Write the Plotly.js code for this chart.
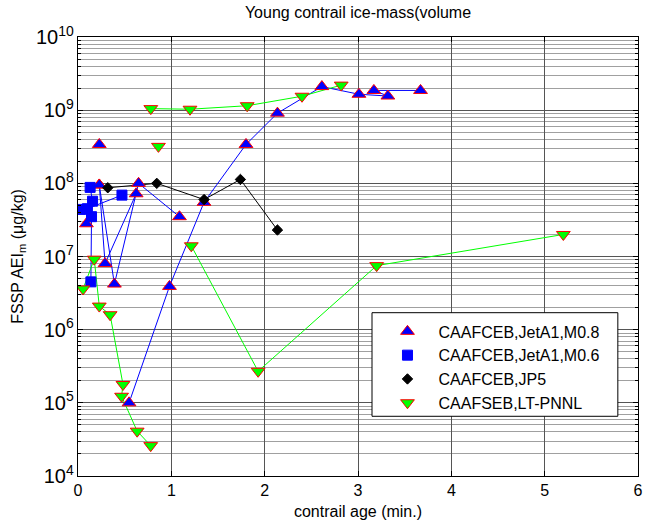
<!DOCTYPE html>
<html><head><meta charset="utf-8">
<script src="https://cdn.plot.ly/plotly-3.0.1.min.js"></script>
<style>html,body{margin:0;padding:0;background:#fff}#chart{width:646px;height:528px}</style>
</head><body><div id="chart"></div>
<script>
// Series names (legend)
const seriesNames = ["CAAFCEB,JetA1,M0.8", "CAAFCEB,JetA1,M0.6", "CAAFCEB,JP5", "CAAFSEB,LT-PNNL"];

// CAAFCEB, JetA1, M0.8 (null = break in the connecting line)
const m08X = [0.09, null, 0.228, null, 0.228, 0.29, 0.623, null, 0.228, 0.39, 0.649, 1.087, null, 0.547, 0.98, 1.35, 1.80, 2.137, 2.613, 3.01, 3.32, 3.17, 3.67];
const m08Y = [2.8e7, null, 3.4e8, null, 9.5e7, 8e6, 7.2e7, null, 9.5e7, 4.2e6, 1e8, 3.5e7, null, 1e5, 3.9e6, 5.5e7, 3.4e8, 9.1e8, 2.1e9, 1.65e9, 1.56e9, 1.86e9, 1.86e9];

// CAAFCEB, JetA1, M0.6
const m06X = [0.13, 0.156, 0.145, 0.138, null, 0.03, 0.10, 0.471];
const m06Y = [8.8e7, 5.7e7, 3.5e7, 4.5e6, null, 4.4e7, 4.5e7, 6.9e7];

// CAAFCEB, JP5
const jp5X = [0.319, 0.844, 1.351, 1.74, 2.137];
const jp5Y = [8.7e7, 1.0e8, 6.0e7, 1.13e8, 2.3e7];

// CAAFSEB, LT-PNNL
const pnnlX = [0.054, 0.174, 0.228, 0.344, 0.482, 0.467, 0.634, 0.779, null, 0.78, 1.2, 1.813, 2.40, 2.82, null, 0.862, null, 1.214, 1.93, 3.2, 5.2];
const pnnlY = [3.6e6, 9.2e6, 2.1e6, 1.6e6, 1.78e5, 1.23e5, 4.1e4, 2.6e4, null, 1.05e9, 1.03e9, 1.15e9, 1.55e9, 2.2e9, null, 3.2e8, null, 1.4e7, 2.7e5, 7.5e6, 2.0e7];

const FONT = "Liberation Sans, Arial, sans-serif";

function lineTrace(x, y, color) {
  return {x: x, y: y, type: 'scatter', mode: 'lines', showlegend: false, hoverinfo: 'skip',
          connectgaps: false, line: {color: color, width: 1}};
}
function markTrace(x, y, name, symbol, size, fill, edge) {
  return {x: x, y: y, type: 'scatter', mode: 'markers', name: name,
          marker: {symbol: symbol, size: size, color: fill, line: {color: edge, width: 1}}};
}

const data = [
  lineTrace(m08X, m08Y, '#0000ff'),
  lineTrace(m06X, m06Y, '#0000ff'),
  lineTrace(jp5X, jp5Y, '#000000'),
  lineTrace(pnnlX, pnnlY, '#00ff00'),
  markTrace(m08X, m08Y, seriesNames[0], 'triangle-up', 12, '#0000ff', '#ff0000'),
  markTrace(m06X, m06Y, seriesNames[1], 'square', 10, '#0000ff', '#0000ff'),
  markTrace(jp5X, jp5Y, seriesNames[2], 'diamond', 8, '#000000', '#000000'),
  markTrace(pnnlX, pnnlY, seriesNames[3], 'triangle-down', 12, '#00ff00', '#ff0000')
];

const layout = {
  width: 646, height: 528,
  margin: {l: 78, r: 8, t: 37, b: 52},
  paper_bgcolor: '#fff', plot_bgcolor: '#fff',
  font: {family: FONT, size: 16, color: '#000'},
  title: {text: 'Young contrail ice-mass(volume', font: {family: FONT, size: 16, color: '#000'},
          x: 0.5, xref: 'paper', xanchor: 'center', y: 0.988, yref: 'container', yanchor: 'top'},
  showlegend: true,
  legend: {x: 0.533, y: 0.368, xanchor: 'left', yanchor: 'top', bgcolor: 'rgba(0,0,0,0)',
           borderwidth: 0, itemwidth: 52, font: {family: FONT, size: 16, color: '#000'}, tracegroupgap: 0},
  xaxis: {
    range: [0, 6], dtick: 1, tick0: 0, showgrid: true, gridcolor: '#555', gridwidth: 1,
    zeroline: false, showline: true, linecolor: '#000', linewidth: 1, mirror: 'allticks',
    ticks: 'inside', ticklen: 5, tickcolor: '#000',
    tickfont: {family: FONT, size: 16, color: '#000'},
    title: {text: 'contrail age (min.)', font: {family: FONT, size: 16, color: '#000'}, standoff: 7}
  },
  yaxis: {
    type: 'log', range: [4, 10], dtick: 1, exponentformat: 'power',
    showgrid: true, gridcolor: '#555', gridwidth: 1,
    zeroline: false, showline: true, linecolor: '#000', linewidth: 1, mirror: 'allticks',
    ticks: 'inside', ticklen: 5, tickcolor: '#000',
    tickfont: {family: FONT, size: 16, color: '#000'},
    minor: {dtick: 'D1', showgrid: true, gridcolor: '#a0a0a0', gridwidth: 1, ticks: 'inside', ticklen: 3, tickcolor: '#000'},
    title: {text: 'FSSP AEI<sub>m</sub> (\u03bcg/kg)', font: {family: FONT, size: 16, color: '#000'}, standoff: 8}
  },
  shapes: [{type: 'rect', xref: 'paper', yref: 'paper', x0: 0.525, x1: 0.964, y0: 0.136, y1: 0.372,
            fillcolor: '#fff', line: {color: '#000', width: 1}, layer: 'above'}]
};

Plotly.newPlot('chart', data, layout, {staticPlot: true, displayModeBar: false});
</script>
</body></html>
